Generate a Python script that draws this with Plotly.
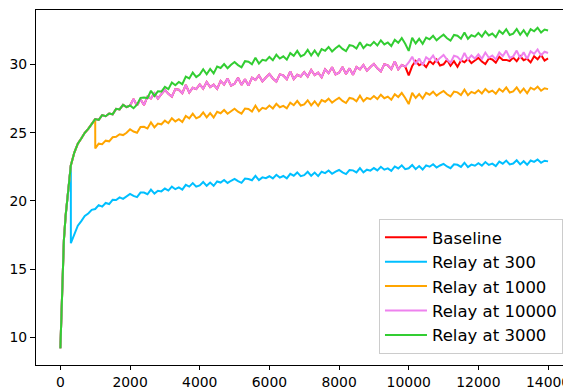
import plotly.graph_objects as go

# ---------------- data ----------------
STEPS_EARLY = [0, 25, 50, 75, 100, 150, 200, 250, 300]
STEPS_MAIN = list(range(400, 14001, 100))

BASE_EARLY = [9.2, 11.0, 12.8, 15.3, 17.1, 18.9, 20.3, 21.7, 22.6]
BASE_MAIN = [
    23.55, 24.2, 24.58, 25.0, 25.28, 25.65,
    26.0, 25.94, 26.29, 26.21, 26.41, 26.35, 26.75, 26.71, 27.04, 26.88,
    27.0, 27.47, 26.99, 27.46, 27.03, 27.65, 27.52, 27.89, 27.51, 27.83,
    28.15, 27.85, 27.65, 28.2, 28.15, 27.9, 28.5, 27.95, 28.3, 28.2,
    28.55, 28.23, 28.72, 28.35, 28.53, 28.22, 28.8, 28.53, 28.97, 28.45,
    28.6, 29.03, 28.51, 28.93, 28.46, 29.04, 28.87, 29.2, 28.77, 29.05,
    29.3, 28.98, 28.75, 29.28, 29.2, 28.93, 29.5, 28.93, 29.25, 29.13,
    29.45, 29.12, 29.6, 29.22, 29.4, 29.07, 29.65, 29.37, 29.8, 29.27,
    29.4, 29.82, 29.3, 29.72, 29.25, 29.82, 29.65, 29.97, 29.55, 29.82,
    30.05, 29.72, 29.5, 30.02, 29.94, 29.66, 30.23, 29.65, 29.97, 29.85,
    29.2, 29.89, 30.26, 29.95, 30.08, 29.81, 30.26, 30.03, 30.36, 29.93,
    30.02, 30.35, 29.92, 30.25, 29.84, 30.3, 30.17, 30.42, 30.11, 30.3,
    30.49, 30.22, 30.03, 30.44, 30.37, 30.14, 30.57, 30.33, 30.34, 30.26,
    30.51, 30.24, 30.61, 30.32, 30.43, 30.16, 30.61, 30.39, 30.71, 30.29,
    30.45,
]

R300_DROP = 16.9
R300_MAIN = [
    17.6, 18.18, 18.52, 18.9, 19.08, 19.35,
    19.41, 19.69, 19.58, 19.85, 19.77, 20.08, 20.07, 20.26, 20.15, 20.32,
    20.52, 20.37, 20.28, 20.61, 20.61, 20.49, 20.83, 20.54, 20.75, 20.7,
    20.91, 20.76, 21.05, 20.86, 20.99, 20.83, 21.18, 21.05, 21.31, 21.05,
    21.14, 21.39, 21.11, 21.35, 21.11, 21.43, 21.35, 21.54, 21.32, 21.48,
    21.62, 21.45, 21.33, 21.64, 21.61, 21.52, 21.84, 21.53, 21.73, 21.67,
    21.81, 21.65, 21.92, 21.71, 21.83, 21.65, 21.99, 21.85, 22.09, 21.82,
    21.89, 22.14, 21.84, 22.08, 21.82, 22.14, 22.04, 22.23, 21.99, 22.15,
    22.27, 22.09, 21.97, 22.27, 22.24, 22.09, 22.41, 22.1, 22.29, 22.22,
    22.41, 22.24, 22.5, 22.29, 22.39, 22.21, 22.53, 22.38, 22.61, 22.33,
    22.39, 22.63, 22.33, 22.56, 22.3, 22.61, 22.51, 22.69, 22.45, 22.6,
    22.72, 22.53, 22.4, 22.69, 22.65, 22.49, 22.8, 22.48, 22.66, 22.58,
    22.76, 22.59, 22.85, 22.64, 22.74, 22.56, 22.88, 22.73, 22.96, 22.68,
    22.74, 22.98, 22.68, 22.91, 22.65, 22.96, 22.86, 23.04, 22.8, 22.95,
    22.9,
]

R1000_DROP = 23.85
R1000_MAIN = [
    24.2, 24.16, 24.42, 24.37, 24.67, 24.7, 24.89, 24.83, 25.0,
    25.26, 25.09, 25.0, 25.43, 25.44, 25.31, 25.76, 25.39, 25.67, 25.62,
    25.89, 25.7, 26.06, 25.83, 25.99, 25.79, 26.23, 26.06, 26.4, 26.06,
    26.18, 26.49, 26.13, 26.44, 26.12, 26.54, 26.43, 26.67, 26.39, 26.59,
    26.76, 26.54, 26.4, 26.78, 26.74, 26.56, 26.98, 26.58, 26.83, 26.75,
    26.99, 26.78, 27.12, 26.87, 26.97, 26.79, 27.21, 27.02, 27.34, 27.0,
    27.08, 27.38, 27.01, 27.31, 26.98, 27.39, 27.27, 27.5, 27.21, 27.4,
    27.56, 27.33, 27.18, 27.55, 27.5, 27.31, 27.72, 27.31, 27.55, 27.46,
    27.69, 27.47, 27.79, 27.53, 27.65, 27.42, 27.82, 27.62, 27.92, 27.55,
    27.1, 27.92, 27.55, 27.84, 27.51, 27.92, 27.79, 28.01, 27.72, 27.91,
    28.06, 27.82, 27.66, 28.02, 27.96, 27.77, 28.16, 27.75, 28.0, 27.89,
    28.11, 27.88, 28.21, 27.97, 28.09, 27.86, 28.21, 28.01, 28.33, 27.95,
    28.03, 28.32, 27.94, 28.23, 27.89, 28.3, 28.16, 28.38, 28.08, 28.26,
    28.2,
]

R10000_MAIN = [
    30.15, 30.57, 30.03, 30.45, 29.96, 30.53, 30.34, 30.66, 30.22, 30.49,
    30.7, 30.37, 30.13, 30.65, 30.56, 30.28, 30.85, 30.36, 30.67, 30.44,
    30.75, 30.42, 30.88, 30.5, 30.66, 30.38, 30.88, 30.61, 31.02, 30.49,
    30.6, 31.02, 30.48, 30.9, 30.41, 30.97, 30.79, 31.11, 30.67, 30.94,
    30.85,
]

R3000_MAIN = [
    26.8, 27.06, 27.56, 27.58, 27.54, 28.08, 27.7, 28.04, 28.02,
    28.36, 28.2, 28.68, 28.48, 28.72, 28.56, 29.11, 28.98, 29.41, 29.08,
    29.27, 29.66, 29.29, 29.68, 29.35, 29.86, 29.75, 30.04, 29.73, 29.98,
    30.19, 29.96, 29.8, 30.25, 30.21, 30.02, 30.5, 30.07, 30.35, 30.28,
    30.56, 30.32, 30.72, 30.44, 30.6, 30.36, 30.84, 30.64, 31.0, 30.6,
    30.72, 31.08, 30.67, 31.03, 30.66, 31.14, 31.01, 31.29, 30.96, 31.2,
    31.39, 31.15, 30.98, 31.42, 31.37, 31.17, 31.64, 31.2, 31.47, 31.39,
    31.66, 31.4, 31.78, 31.48, 31.62, 31.36, 31.82, 31.6, 31.94, 31.52,
    31.0, 31.96, 31.55, 31.89, 31.52, 31.98, 31.85, 32.11, 31.78, 32.0,
    32.19, 31.93, 31.75, 32.17, 32.11, 31.89, 32.35, 31.89, 32.15, 32.05,
    32.31, 32.05, 32.43, 32.13, 32.27, 32.01, 32.47, 32.25, 32.59, 32.17,
    32.27, 32.61, 32.18, 32.52, 32.13, 32.59, 32.44, 32.7, 32.35, 32.57,
    32.5,
]

X_TICKS = [0, 2000, 4000, 6000, 8000, 10000, 12000, 14000]
Y_TICKS = [10, 15, 20, 25, 30]

# ---------------- build series ----------------
baseline_x = STEPS_EARLY + STEPS_MAIN
baseline_y = BASE_EARLY + BASE_MAIN

r300_x = STEPS_EARLY + [301] + STEPS_MAIN
r300_y = BASE_EARLY + [R300_DROP] + R300_MAIN

i1000 = baseline_x.index(1000)
r1000_x = baseline_x[:i1000 + 1] + [1001] + list(range(1100, 14001, 100))
r1000_y = baseline_y[:i1000 + 1] + [R1000_DROP] + R1000_MAIN

i10000 = baseline_x.index(10000)
r10000_x = baseline_x[:i10000] + list(range(10000, 14001, 100))
r10000_y = baseline_y[:i10000] + R10000_MAIN

i2000 = baseline_x.index(2000)
r3000_x = baseline_x[:i2000 + 1] + list(range(2100, 14001, 100))
r3000_y = baseline_y[:i2000 + 1] + R3000_MAIN

series = [
    ("Baseline", baseline_x, baseline_y, "#ff0000"),
    ("Relay at 300", r300_x, r300_y, "#00bfff"),
    ("Relay at 1000", r1000_x, r1000_y, "#ffa500"),
    ("Relay at 10000", r10000_x, r10000_y, "#ee82ee"),
    ("Relay at 3000", r3000_x, r3000_y, "#32cd32"),
]

fig = go.Figure()
for name, xs, ys, col in series:
    fig.add_trace(go.Scatter(x=xs, y=ys, mode="lines", name=name,
                             line=dict(color=col, width=2)))

FONT = "DejaVu Sans"
# The page body has an 8px default margin, so the figure is 8px smaller
# than the window and the margins are shifted accordingly.
fig.update_layout(
    width=563, height=379,
    margin=dict(l=28, r=0, t=2, b=22, pad=0),
    paper_bgcolor="white", plot_bgcolor="white",
    font=dict(family=FONT, size=14, color="black"),
    showlegend=True,
    legend=dict(
        x=0.985, xanchor="right", y=0.031, yanchor="bottom",
        bgcolor="rgba(255,255,255,0.8)", bordercolor="#cccccc", borderwidth=1,
        font=dict(family=FONT, size=16.5, color="black"),
        traceorder="normal", itemwidth=42,
    ),
)
fig.update_xaxes(
    range=[-700, 14659], tickvals=X_TICKS, ticktext=[str(v) for v in X_TICKS],
    showgrid=False, zeroline=False, automargin=False,
    showline=True, linecolor="black", linewidth=1, mirror=True,
    ticks="outside", ticklen=4, tickwidth=1, tickcolor="black",
    tickfont=dict(family=FONT, size=13.9, color="black"),
)
fig.update_yaxes(
    range=[7.97, 34.0], tickvals=Y_TICKS, ticktext=[str(v) for v in Y_TICKS],
    showgrid=False, zeroline=False, automargin=False,
    showline=True, linecolor="black", linewidth=1, mirror=False,
    ticks="outside", ticklen=5, tickwidth=1, tickcolor="black",
    tickfont=dict(family=FONT, size=13.9, color="black"),
)

fig.write_html("out.html")
